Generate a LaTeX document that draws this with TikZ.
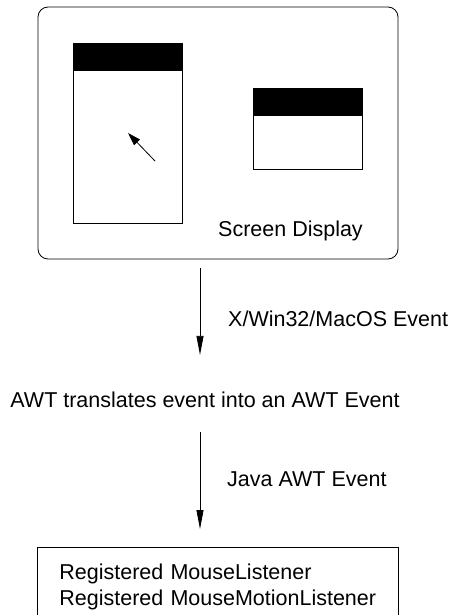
\documentclass[tikz,border=0pt]{standalone}
\usepackage{fontspec}
\setmainfont{Liberation Sans}
\usetikzlibrary{arrows.meta}

\tikzset{
	evarrow/.style={-{Triangle[length=19pt,width=7pt]}, line width=0.8pt},
	lbl/.style={font=\fontsize{21.5}{26}\selectfont, inner sep=0pt},
	winbox/.style={line width=0.8pt},
}

\begin{document}
\begin{tikzpicture}[x=1pt, y=-1pt]
	 \clip (0,0) rectangle (451,615);
	 \node[draw, line width=0.8pt, rounded corners=10pt, minimum width=360pt, minimum height=252pt, inner sep=0pt] (screen) at (218,133) {};
	 % windows on the screen
	 \draw[winbox] (73,43) rectangle (182,223);
	 \fill (73,43) rectangle (182,71);
	 \draw[winbox] (253,88) rectangle (362,169);
	 \fill (253,88) rectangle (362,116);
	 \draw[-{Triangle[length=13pt,width=8pt]}, line width=0.8pt] (155,161) -- (128,133);
	 \node[lbl, anchor=base west] (scrlbl) at (218,236) {Screen Display};
 
	 \node[lbl] (awt) at (205,400) {AWT translates event into an AWT Event};
	 \node[draw, line width=0.8pt, anchor=north west, lbl, align=left, text width=317pt, inner xsep=22pt, inner ysep=17pt] (listeners) at (37,547) {Registered MouseListener\\Registered MouseMotionListener};
	 \coordinate (flow) at (200,0);
 
	 \draw[evarrow, shorten <=9pt, shorten >=37pt] (screen.south -| flow) -- (awt.north -| flow);
	 \node[lbl, anchor=base west] (osevent) at (228,326) {X/Win32/MacOS Event};
 
	 \draw[evarrow, shorten <=24pt, shorten >=18pt] (awt.south -| flow) -- (listeners.north -| flow);
	 \node[lbl, anchor=base west] (javaevent) at (227,486) {Java AWT Event};
\end{tikzpicture}
\end{document}
